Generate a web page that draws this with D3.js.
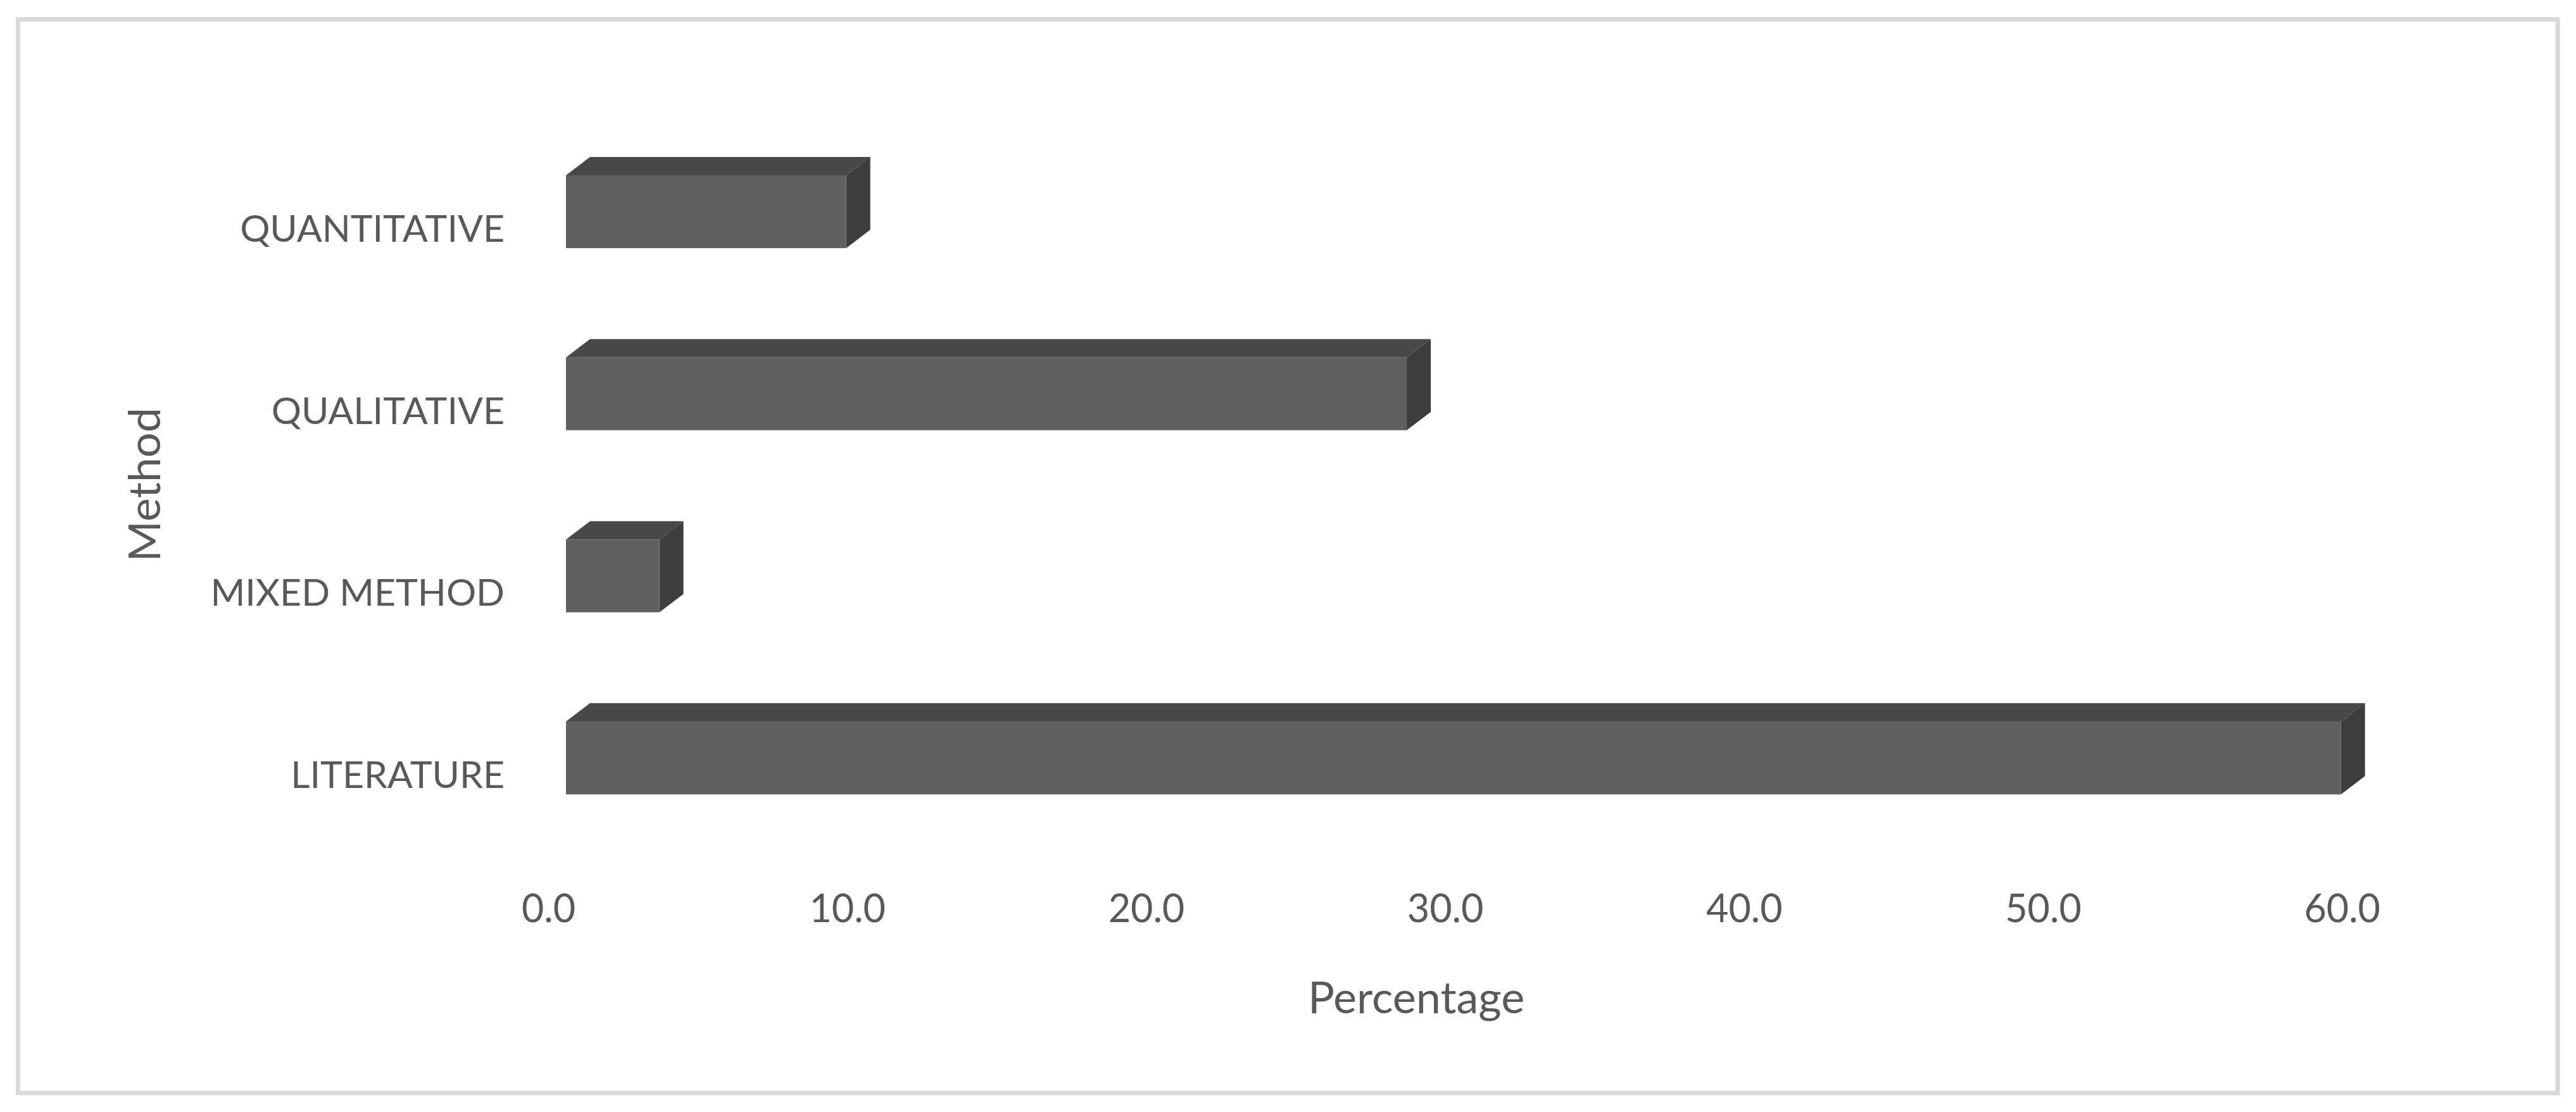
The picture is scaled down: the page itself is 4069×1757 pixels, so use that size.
<!DOCTYPE html>
<html>
<head>
<meta charset="utf-8">
<script src="https://cdn.jsdelivr.net/npm/d3@7"></script>
<style>
  html, body { margin: 0; padding: 0; background: #ffffff; }
  text { font-family: Lato, "Open Sans", sans-serif; fill: #595959; }
</style>
</head>
<body>
<script>
// ---- data ----
const categories = ["QUANTITATIVE", "QUALITATIVE", "MIXED METHOD", "LITERATURE"];
const values = [9.375, 28.125, 3.125, 59.375];
const tickValues = [0, 10, 20, 30, 40, 50, 60];
const xTitle = "Percentage";
const yTitle = "Method";

// ---- layout ----
const W = 4069, H = 1757;
const svg = d3.select("body").append("svg")
  .attr("width", W).attr("height", H);

svg.append("rect").attr("width", W).attr("height", H).attr("fill", "#ffffff");
svg.append("rect")
  .attr("x", 28.5).attr("y", 30.5)
  .attr("width", 4011.5).attr("height", 1696.5)
  .attr("fill", "none").attr("stroke", "#d9d9d9").attr("stroke-width", 7);

const x = d3.scaleLinear().domain([0, 60]).range([894, 894 + 60 * 47.22]);
const y = d3.scaleBand().domain(categories)
  .range([190.7, 1341.5]).paddingInner(0.6).paddingOuter(0.3);

const depthX = 38, depthY = -29;

const data = categories.map((c, i) => ({ c, v: values[i] }));

const bars = svg.append("g");
const g = bars.selectAll("g.bar").data(data).join("g").attr("class", "bar");

// top face
g.append("path")
  .attr("fill", "#484848")
  .attr("d", d => {
    const x0 = x(0), x1 = x(d.v), t = y(d.c);
    return `M${x0},${t}L${x0 + depthX},${t + depthY}L${x1 + depthX},${t + depthY}L${x1},${t}Z`;
  });
// side face
g.append("path")
  .attr("fill", "#3d3d3d")
  .attr("d", d => {
    const x1 = x(d.v), t = y(d.c), b = t + y.bandwidth();
    return `M${x1},${t}L${x1 + depthX},${t + depthY}L${x1 + depthX},${b + depthY}L${x1},${b}Z`;
  });
// front face
g.append("rect")
  .attr("fill", "#606060")
  .attr("x", x(0))
  .attr("y", d => y(d.c))
  .attr("width", d => x(d.v) - x(0))
  .attr("height", y.bandwidth());

// ---- x axis (labels only) ----
const xAxis = d3.axisBottom(x).tickValues(tickValues)
  .tickFormat(d3.format(".1f")).tickSize(0).tickPadding(0);
const xg = svg.append("g").attr("transform", "translate(-28, 1414)").call(xAxis);
xg.select(".domain").remove();
xg.selectAll("text")
  .attr("font-family", "Lato, 'Open Sans', sans-serif")
  .attr("font-size", 61).attr("fill", "#595959")
  .attr("dy", "0.71em");

// ---- y axis (labels only) ----
const yAxis = d3.axisLeft(y).tickSize(0).tickPadding(0);
const yg = svg.append("g").attr("transform", "translate(797, 26)").call(yAxis);
yg.select(".domain").remove();
yg.selectAll("text")
  .attr("font-family", "Lato, 'Open Sans', sans-serif")
  .attr("font-size", 59).attr("fill", "#595959")
  .attr("dy", "0.36em");

// ---- titles ----
svg.append("text")
  .attr("x", 2237).attr("y", 1601)
  .attr("text-anchor", "middle")
  .attr("font-size", 70)
  .text(xTitle);

svg.append("text")
  .attr("transform", "translate(253, 766) rotate(-90)")
  .attr("text-anchor", "middle")
  .attr("font-size", 70)
  .text(yTitle);
</script>
</body>
</html>
